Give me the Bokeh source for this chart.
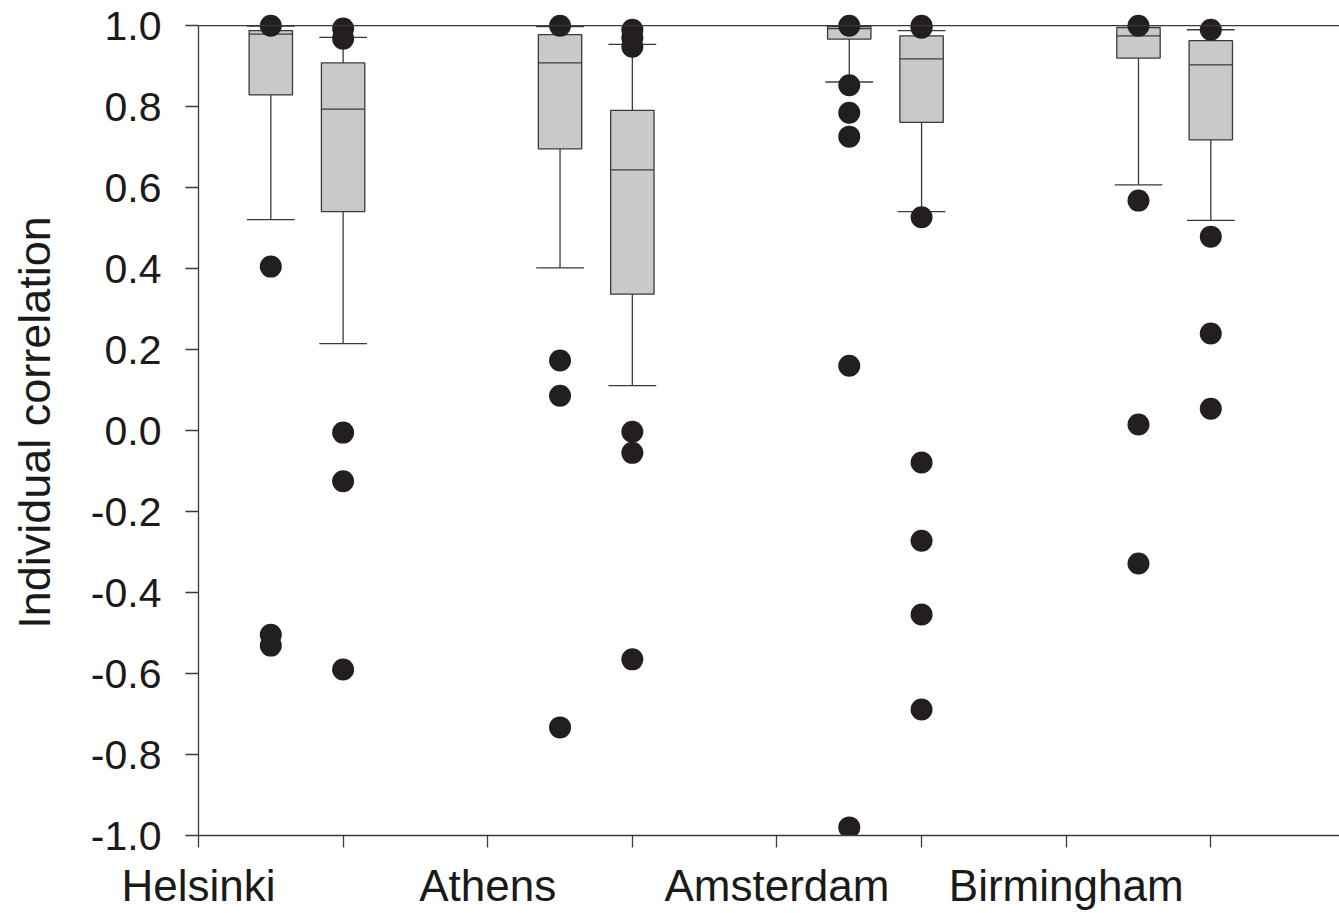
import numpy as np
from bokeh.plotting import figure
from bokeh.models import Range1d, FixedTicker, Span, NumeralTickFormatter
from bokeh.embed import file_html
from bokeh.resources import INLINE

# ---------------- data ----------------
cities = ["Helsinki", "Athens", "Amsterdam", "Birmingham"]
city_ticks = [0, 2, 4, 6]
all_ticks = [0, 1, 2, 3, 4, 5, 6, 7]

box_pos = [0.5, 1.0, 2.5, 3.0, 4.5, 5.0, 6.5, 7.0]
q1 = [0.829, 0.541, 0.696, 0.337, 0.967, 0.761, 0.920, 0.718]
median = [0.979, 0.794, 0.908, 0.644, 0.993, 0.918, 0.975, 0.903]
q3 = [0.988, 0.908, 0.978, 0.791, 0.998, 0.975, 0.995, 0.963]
whisk_lo = [0.521, 0.215, 0.402, 0.111, 0.861, 0.541, 0.607, 0.519]
whisk_hi = [0.999, 0.971, 0.998, 0.954, 1.000, 0.988, 1.000, 0.990]

# outliers: index of box -> values
out_box = [0, 0, 0, 0,
           1, 1, 1, 1, 1,
           2, 2, 2, 2,
           3, 3, 3, 3, 3, 3,
           4, 4, 4, 4, 4, 4,
           5, 5, 5, 5, 5, 5, 5,
           6, 6, 6, 6,
           7, 7, 7, 7]
out_val = [1.0, 0.405, -0.504, -0.531,
           0.993, 0.968, -0.005, -0.125, -0.59,
           1.0, 0.173, 0.086, -0.733,
           0.99, 0.97, 0.948, -0.003, -0.055, -0.565,
           1.0, 0.853, 0.785, 0.726, 0.16, -0.98,
           1.0, 0.995, 0.527, -0.079, -0.272, -0.454, -0.689,
           1.0, 0.568, 0.015, -0.328,
           0.99, 0.479, 0.24, 0.054]

y_ticks = [-1.0, -0.8, -0.6, -0.4, -0.2, 0.0, 0.2, 0.4, 0.6, 0.8, 1.0]

# ---------------- styles ----------------
FONT = "Liberation Sans"
LINE = "#3a3a3a"
BOX_FILL = "#c8c9cb"
DOT = "#231f20"
BOX_W = 0.30
CAP_W = 0.33

p = figure(width=1339, height=913,
           x_range=Range1d(0, 7.89), y_range=Range1d(-1.0, 1.04),
           output_backend="svg", toolbar_location=None,
           min_border_left=198, min_border_right=0,
           min_border_top=9, min_border_bottom=78)
p.outline_line_color = None
p.xgrid.visible = False
p.ygrid.visible = False
p.background_fill_color = "white"
p.border_fill_color = "white"

pos = np.array(box_pos)

# whiskers
p.segment(x0=pos, y0=q3, x1=pos, y1=whisk_hi, line_color=LINE, line_width=1.3)
p.segment(x0=pos, y0=q1, x1=pos, y1=whisk_lo, line_color=LINE, line_width=1.3)
# caps
p.segment(x0=pos - CAP_W / 2, y0=whisk_hi, x1=pos + CAP_W / 2, y1=whisk_hi,
          line_color=LINE, line_width=1.3)
p.segment(x0=pos - CAP_W / 2, y0=whisk_lo, x1=pos + CAP_W / 2, y1=whisk_lo,
          line_color=LINE, line_width=1.3)
# boxes
p.vbar(x=pos, width=BOX_W, bottom=q1, top=q3, fill_color=BOX_FILL,
       line_color=LINE, line_width=1.3)
# medians
p.segment(x0=pos - BOX_W / 2, y0=median, x1=pos + BOX_W / 2, y1=median,
          line_color=LINE, line_width=1.3)

# top frame line
p.add_layout(Span(location=y_ticks[-1], dimension="width", line_color=LINE, line_width=1.3))

# outliers
ox = [box_pos[i] for i in out_box]
p.scatter(x=ox, y=out_val, size=22, fill_color=DOT, line_color=None)

# axes
xa = p.xaxis[0]
xa.ticker = FixedTicker(ticks=all_ticks)
overrides = {t: "" for t in all_ticks}
for t, c in zip(city_ticks, cities):
    overrides[t] = c
xa.major_label_overrides = overrides
xa.major_label_text_font = FONT
xa.major_label_text_font_size = "44px"
xa.major_label_text_color = "#1a1a1a"
xa.major_label_standoff = 13
xa.major_tick_out = 12
xa.major_tick_in = 0
xa.minor_tick_out = 0
xa.minor_tick_in = 0
xa.axis_line_color = LINE
xa.axis_line_width = 1.3
xa.major_tick_line_color = LINE
xa.major_tick_line_width = 1.3

ya = p.yaxis[0]
ya.ticker = FixedTicker(ticks=y_ticks)
ya.formatter = NumeralTickFormatter(format="0.0")
ya.bounds = (y_ticks[0], y_ticks[-1])
ya.axis_label = "Individual correlation"
ya.axis_label_text_font = FONT
ya.axis_label_text_font_size = "45px"
ya.axis_label_text_font_style = "normal"
ya.axis_label_text_color = "#1a1a1a"
ya.axis_label_standoff = 28
ya.major_label_text_font = FONT
ya.major_label_text_font_size = "41px"
ya.major_label_text_color = "#1a1a1a"
ya.major_label_standoff = 24
ya.major_tick_out = 13
ya.major_tick_in = 0
ya.minor_tick_out = 0
ya.minor_tick_in = 0
ya.axis_line_color = LINE
ya.axis_line_width = 1.3
ya.major_tick_line_color = LINE
ya.major_tick_line_width = 1.3

open("out.html", "w").write(file_html(p, INLINE))
